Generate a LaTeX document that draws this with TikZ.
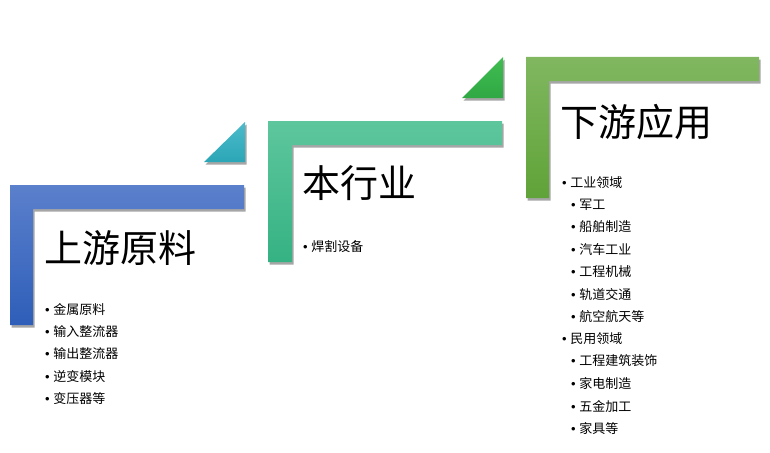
\documentclass[tikz,border=0pt]{standalone}
\usepackage{fontspec}
\setmainfont{Noto Sans CJK SC}
\newfontfamily\bulfont{Liberation Sans}
\usepackage{tikz}
\usetikzlibrary{shadows, positioning}
\definecolor{blueA}{HTML}{5B80CC}
\definecolor{blueB}{HTML}{2E5EB9}
\definecolor{tealA}{HTML}{4DBBCB}
\definecolor{tealB}{HTML}{2BA6B6}
\definecolor{mintA}{HTML}{5EC69D}
\definecolor{mintB}{HTML}{35B283}
\definecolor{leafA}{HTML}{40BD52}
\definecolor{leafB}{HTML}{30A844}
\definecolor{oliveA}{HTML}{80B760}
\definecolor{oliveB}{HTML}{60A338}
\tikzstyle{stepshape} = [drop shadow={shadow xshift=1.5pt, shadow yshift=-2.5pt, opacity=0.35, fill=black}]
\tikzstyle{title} = [anchor=west, inner sep=0pt, font=\fontsize{38}{40}\selectfont]
\tikzstyle{item} = [anchor=west, inner sep=0pt, font=\fontsize{13}{15}\selectfont]
\newcommand{\bul}{{\bulfont •}\hspace{3.5pt}}

\begin{document}
\begin{tikzpicture}[x=1pt, y=-1pt]
			\useasboundingbox (0,0) rectangle (770,452);

			% step shapes
			\path [stepshape, top color=blueA, bottom color=blueB] (10,185) -- (244,185) -- (244,209) -- (33,209) -- (33,325) -- (10,325) -- cycle;
			\path [stepshape, top color=tealA, bottom color=tealB] (245,122) -- (245,162) -- (204,162) -- cycle;
			\path [stepshape, top color=mintA, bottom color=mintB] (268,121) -- (502,121) -- (502,145) -- (292,145) -- (292,262) -- (268,262) -- cycle;
			\path [stepshape, top color=leafA, bottom color=leafB] (503,57) -- (503,98) -- (462,98) -- cycle;
			\path [stepshape, top color=oliveA, bottom color=oliveB] (526,57) -- (759,57) -- (759,81) -- (549,81) -- (549,198) -- (526,198) -- cycle;

			% titles
			\node [title] (up) at (44,248) {上游原料};
			\node [title] (mid) at (302,183) {本行业};
			\node [title] (down) at (560,122) {下游应用};

			% upstream items
			\node [item] (u1) at (45,310) {\bul 金属原料};
			\node [item] (u2) at (45,332) {\bul 输入整流器};
			\node [item] (u3) at (45,354) {\bul 输出整流器};
			\node [item] (u4) at (45,377) {\bul 逆变模块};
			\node [item] (u5) at (45,399) {\bul 变压器等};

			% industry items
			\node [item] (m1) at (303,247) {\bul 焊割设备};

			% downstream items
			\node [item] (d1) at (562,183) {\bul 工业领域};
			\node [item] (d2) at (571,205) {\bul 军工};
			\node [item] (d3) at (571,227) {\bul 船舶制造};
			\node [item] (d4) at (571,250) {\bul 汽车工业};
			\node [item] (d5) at (571,272) {\bul 工程机械};
			\node [item] (d6) at (571,295) {\bul 轨道交通};
			\node [item] (d7) at (571,317) {\bul 航空航天等};
			\node [item] (d8) at (562,339) {\bul 民用领域};
			\node [item] (d9) at (571,361) {\bul 工程建筑装饰};
			\node [item] (d10) at (571,384) {\bul 家电制造};
			\node [item] (d11) at (571,407) {\bul 五金加工};
			\node [item] (d12) at (571,429) {\bul 家具等};
		\end{tikzpicture}
\end{document}
